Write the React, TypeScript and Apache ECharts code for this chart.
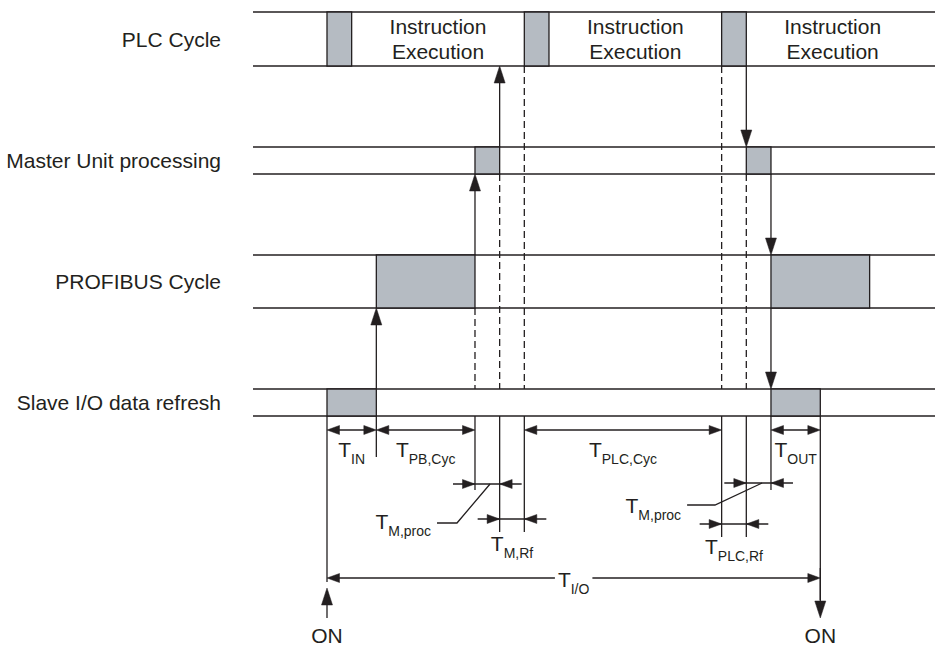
import React, { useEffect, useRef } from "react";
import * as echarts from "echarts";

// ---------------- DATA (time axis in PLC-refresh units) ----------------
const laneNames = ["PLC Cycle", "Master Unit processing", "PROFIBUS Cycle", "Slave I/O data refresh"];
// busy blocks: [lane, start, end]
const plcRefresh = [[0, 0, 1], [0, 8, 9], [0, 16, 17]];
const masterProcessing = [[1, 6, 7], [1, 17, 18]];
const profibusCycles = [[2, 2, 6], [2, 18, 22]];
const slaveRefresh = [[3, 0, 2], [3, 18, 20]];
// instruction execution windows: [start, end]
const executionWindows = [[1, 8], [9, 16], [17, 24]];
const executionLabel = "Instruction\nExecution";
// hand-off arrows: [time, fromLane, toLane]
const handoffs = [[2, 3, 2], [6, 2, 1], [7, 1, 0], [17, 0, 1], [18, 1, 2], [18, 2, 3]];
// dashed boundary markers: [time, fromLane]
const boundaries = [[6, 2], [7, 1], [8, 0], [16, 0], [17, 1]];
// measured spans (outward arrows)
const spanFrom = [0, 2, 8, 18, 0];
const spanTo = [2, 6, 16, 20, 20];
const spanSubs = ["IN", "PB,Cyc", "PLC,Cyc", "OUT", "I/O"];
// short intervals (inward arrows)
const gapFrom = [6, 7, 17, 16];
const gapTo = [7, 8, 18, 17];
const gapSubs = ["M,proc", "M,Rf", "M,proc", "PLC,Rf"];
// ON events (input on, output on)
const eventTimes = [0, 20];
const eventLabel = "ON";

// ---------------- LAYOUT / STYLE ----------------
const X_MIN = -3;
const X_MAX = 24.65;
const laneEdges = [[12, 66], [147, 174], [255, 308], [389, 416]];
const spanRowY = [430, 430, 430, 430, 578];
const spanLabelY = [449.5, 449.5, 449.5, 449.5, 579.5];
const gapRowY = [484, 519, 483, 524];
const gapLabelY = [521, 543.5, 505, 546.5];
const gapLeaders: (number[][] | null)[] = [
  [[6.61, 484], [5.27, 523], [4.46, 523]],
  null,
  [[17.64, 483], [15.73, 505], [14.6, 505]],
  null,
];
// extension lines below the slave lane: [time, endY]
const extensions = [[0, 582], [2, 457], [6, 490], [7, 532], [8, 532], [16, 537], [17, 537], [18, 490], [20, 600]];
const eventArrowTop = 588;
const eventArrowBottom = 618;
const eventLabelY = 635;

const INK = "#231f20";
const GRAY = "#b5bbc2";
const FONT = "'Liberation Sans', Arial, Helvetica, sans-serif";
const LW = 1.3;
const MAIN_SIZE = 21;
const T_SIZE = 21;
const SUB_SIZE = 14;

let measureCtx: CanvasRenderingContext2D | null = null;
function measure(text: string, size: number) {
  if (!measureCtx) measureCtx = document.createElement("canvas").getContext("2d");
  if (!measureCtx) return text.length * size * 0.55;
  measureCtx.font = `${size}px ${FONT}`;
  return measureCtx.measureText(text).width;
}

function line(x1: number, y1: number, x2: number, y2: number, dashed = false) {
  return {
    type: "line",
    shape: { x1, y1, x2, y2 },
    style: { stroke: INK, lineWidth: LW, lineDash: dashed ? [7, 4] : null },
  };
}

function head(tip: number[], dir: number[], len: number, hw: number) {
  const [dx, dy] = dir;
  const bx = tip[0] - dx * len;
  const by = tip[1] - dy * len;
  const px = -dy;
  const py = dx;
  return {
    type: "polygon",
    shape: { points: [[tip[0], tip[1]], [bx + px * hw, by + py * hw], [bx - px * hw, by - py * hw]] },
    style: { fill: INK, stroke: INK, lineWidth: 0.5 },
  };
}

function text(str: string, x: number, y: number, size: number, align: string, lineHeight?: number) {
  return {
    type: "text",
    x,
    y,
    style: {
      text: str,
      fill: INK,
      font: `${size}px ${FONT}`,
      align,
      textAlign: align,
      verticalAlign: "middle",
      textVerticalAlign: "middle",
      lineHeight: lineHeight || size * 1.2,
    },
  };
}

// "T" with subscript
function tLabel(sub: string, x: number, cy: number, align: "center" | "right" | "left") {
  const wT = measure("T", T_SIZE);
  const wS = measure(sub, SUB_SIZE);
  const total = wT + wS;
  const left = align === "center" ? x - total / 2 : align === "right" ? x - total : x;
  return {
    box: [left, left + total],
    els: [text("T", left, cy, T_SIZE, "left"), text(sub, left + wT, cy + 9.5, SUB_SIZE, "left")],
  };
}

function custom(name: string, count: number, render: (i: number, api: any, params: any) => any) {
  return {
    type: "custom",
    name,
    clip: false,
    silent: true,
    data: Array.from({ length: count }, () => [0, 0]),
    renderItem: (params: any, api: any) => render(params.dataIndex, api, params),
  };
}

function buildOption() {
  const blocks = [...plcRefresh, ...masterProcessing, ...profibusCycles, ...slaveRefresh];
  return {
    animation: false,
    backgroundColor: "#ffffff",
    grid: { left: 253, right: 0, top: 0, bottom: 0 },
    xAxis: { type: "value", min: X_MIN, max: X_MAX, show: false },
    yAxis: { type: "value", min: 0, max: 645, inverse: true, show: false },
    series: [
      // lanes and their names
      custom("lanes", laneNames.length, (i, api, params) => {
        const cs = params.coordSys;
        const yT = api.coord([X_MIN, laneEdges[i][0]])[1];
        const yB = api.coord([X_MIN, laneEdges[i][1]])[1];
        return {
          type: "group",
          children: [
            line(cs.x, yT, cs.x + cs.width, yT),
            line(cs.x, yB, cs.x + cs.width, yB),
            text(laneNames[i], cs.x - 32, (yT + yB) / 2, MAIN_SIZE, "right"),
          ],
        };
      }),
      // busy blocks
      custom("blocks", blocks.length, (i, api) => {
        const [lane, s, e] = blocks[i];
        const p1 = api.coord([s, laneEdges[lane][0]]);
        const p2 = api.coord([e, laneEdges[lane][1]]);
        return {
          type: "rect",
          shape: { x: p1[0], y: p1[1], width: p2[0] - p1[0], height: p2[1] - p1[1] },
          style: { fill: GRAY, stroke: INK, lineWidth: LW },
        };
      }),
      // instruction execution labels
      custom("execution", executionWindows.length, (i, api) => {
        const [a, b] = executionWindows[i];
        const p = api.coord([(a + b) / 2, (laneEdges[0][0] + laneEdges[0][1]) / 2]);
        return text(executionLabel, p[0], p[1], MAIN_SIZE, "center", 25.5);
      }),
      // dashed boundaries
      custom("boundaries", boundaries.length, (i, api) => {
        const [t, from] = boundaries[i];
        const a = api.coord([t, laneEdges[from][1]]);
        const b = api.coord([t, laneEdges[3][0]]);
        return line(a[0], a[1], b[0], b[1], true);
      }),
      // hand-off arrows
      custom("handoffs", handoffs.length, (i, api) => {
        const [t, from, to] = handoffs[i];
        const up = to < from;
        const y1 = up ? laneEdges[from][0] : laneEdges[from][1];
        const y2 = up ? laneEdges[to][1] : laneEdges[to][0];
        const a = api.coord([t, y1]);
        const b = api.coord([t, y2]);
        return {
          type: "group",
          children: [line(a[0], a[1], b[0], b[1] + (up ? 8 : -8)), head(b, up ? [0, -1] : [0, 1], 17, 5.5)],
        };
      }),
      // extension lines
      custom("extensions", extensions.length, (i, api) => {
        const [t, endY] = extensions[i];
        const a = api.coord([t, laneEdges[3][1]]);
        const b = api.coord([t, endY]);
        return line(a[0], a[1], b[0], b[1]);
      }),
      // measured spans
      custom("spans", spanSubs.length, (i, api) => {
        const a = api.coord([spanFrom[i], spanRowY[i]]);
        const b = api.coord([spanTo[i], spanRowY[i]]);
        const c = api.coord([(spanFrom[i] + spanTo[i]) / 2, spanLabelY[i]]);
        const lbl = tLabel(spanSubs[i], c[0], c[1], "center");
        const children: any[] = [head(a, [-1, 0], 12.5, 4.5), head(b, [1, 0], 12.5, 4.5)];
        const crosses = Math.abs(spanLabelY[i] - spanRowY[i]) < 8;
        if (crosses) {
          children.push(line(a[0] + 6, a[1], lbl.box[0] - 3, a[1]));
          children.push(line(lbl.box[1] + 3, b[1], b[0] - 6, b[1]));
        } else {
          children.push(line(a[0] + 6, a[1], b[0] - 6, b[1]));
        }
        children.push(...lbl.els);
        return { type: "group", children };
      }),
      // short intervals
      custom("gaps", gapSubs.length, (i, api) => {
        const a = api.coord([gapFrom[i], gapRowY[i]]);
        const b = api.coord([gapTo[i], gapRowY[i]]);
        const children: any[] = [
          line(a[0] - 22, a[1], b[0] + 22, b[1]),
          head(a, [1, 0], 12.5, 4.5),
          head(b, [-1, 0], 12.5, 4.5),
        ];
        const leader = gapLeaders[i];
        if (leader) {
          const pts = leader.map((p) => api.coord(p));
          children.push({ type: "polyline", shape: { points: pts }, style: { stroke: INK, lineWidth: LW, fill: null } });
          const end = pts[pts.length - 1];
          children.push(...tLabel(gapSubs[i], end[0] - 6, api.coord([0, gapLabelY[i]])[1], "right").els);
        } else {
          const c = api.coord([(gapFrom[i] + gapTo[i]) / 2, gapLabelY[i]]);
          children.push(...tLabel(gapSubs[i], c[0], c[1], "center").els);
        }
        return { type: "group", children };
      }),
      // ON events
      custom("events", eventTimes.length, (i, api) => {
        const t = eventTimes[i];
        const top = api.coord([t, eventArrowTop]);
        const bot = api.coord([t, eventArrowBottom]);
        const lbl = api.coord([t, eventLabelY]);
        const isInput = i === 0;
        const children: any[] = isInput
          ? [line(bot[0], bot[1], top[0], top[1] + 8), head(top, [0, -1], 17, 5.5)]
          : [line(top[0], top[1] - 20, bot[0], bot[1] - 8), head(bot, [0, 1], 17, 5.5)];
        children.push(text(eventLabel, lbl[0], lbl[1], MAIN_SIZE, "center", 16));
        return { type: "group", children };
      }),
    ],
  };
}

export default function App() {
  const ref = useRef<HTMLDivElement>(null);
  useEffect(() => {
    document.body.style.margin = "0";
    const chart = echarts.init(ref.current!, null, { renderer: "svg" });
    chart.setOption(buildOption() as any);
    return () => chart.dispose();
  }, []);
  return (
    <div
      ref={ref}
      style={{ width: 935, height: 645, position: "absolute", left: 0, top: 0, background: "#fff" }}
    />
  );
}
